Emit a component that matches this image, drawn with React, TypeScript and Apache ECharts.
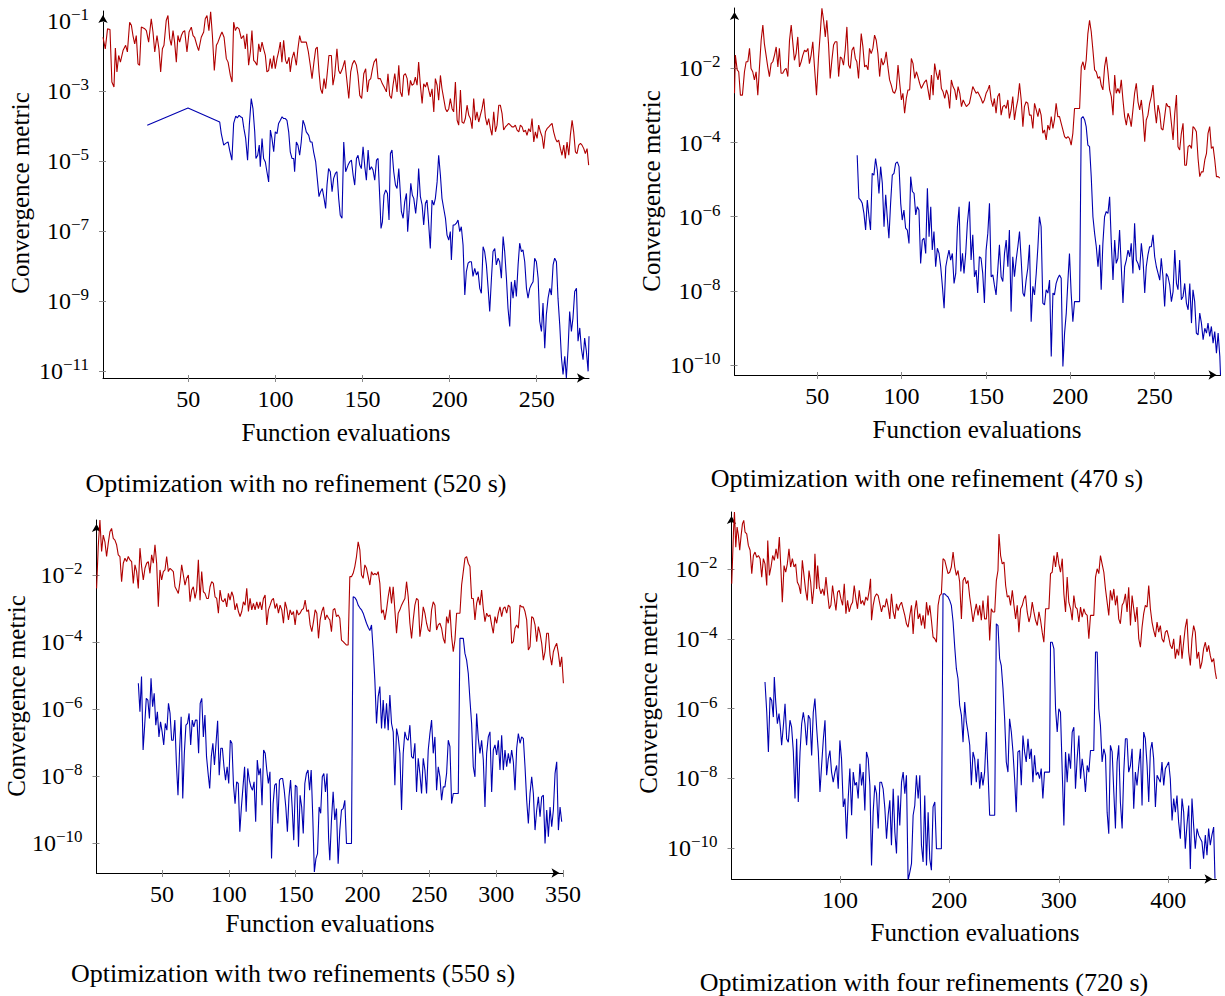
import React, { useEffect, useRef } from "react";
import * as echarts from "echarts";

const FONT = '"Liberation Serif", "Times New Roman", serif';
const RED = "#b00000";
const BLUE = "#0000b0";

// Values are log10 of the convergence metric, given as flat [x, log10(y)] lists.
const NOREF_RED = [
  1,-1.47, 2.3,-1.80, 3.6,-1.23, 5,-1.25, 6.1,-2.75, 7.3,-2.89, 8.1,-1.78, 9,-2.46, 10,-1.99, 11,-2.18, 12.5,-1.85, 14,-1.70, 15,-1.89, 16.3,-1.04, 17.3,-1.13, 18.2,-1.42, 19.2,-1.66, 20.1,-1.42, 21.1,-2.23, 22,-2.27, 23,-1.18, 25,-1.23, 25.9,-1.28, 27.2,-1.61, 28.7,-0.94, 29.7,-1.32, 30.7,-1.89, 32,-1.42, 33.1,-1.80, 34.1,-2.46, 35.1,-1.80, 36,-1.70, 37.3,-0.99, 38.3,-0.85, 39.3,-1.51, 40.2,-1.70, 41.2,-1.28, 42.1,-1.61, 43.1,-2.18, 44,-1.42, 45,-1.61, 46,-1.42, 46.9,-1.32, 47.9,-1.28, 49.2,-1.89, 50.4,-1.32, 51.7,-1.18, 52.7,-1.42, 53.6,-1.47, 54.9,-1.70, 55.9,-1.85, 57.4,-1.47, 58.8,-1.32, 59.7,-0.94, 60.7,-0.85, 61.8,-1.28, 62.8,-0.74, 63.8,-1.42, 64.9,-2.42, 66.1,-1.70, 67,-1.61, 68.4,-1.42, 69.3,-1.32, 70.5,-1.47, 71.8,-2.08, 72.8,-2.18, 74.1,-2.56, 75.1,-2.75, 76,-1.04, 77,-1.28, 77.9,-1.18, 79.1,-1.23, 80.4,-1.51, 81.7,-1.42, 82.7,-1.80, 83.6,-1.37, 84.6,-2.27, 85.6,-1.89, 86.5,-1.28, 87.5,-2.13, 88.4,-2.18, 89.4,-2.27, 90.4,-1.66, 91.3,-1.89, 92.3,-1.61, 93.2,-1.80, 94.2,-1.99, 95.1,-2.46, 96.1,-2.42, 97,-2.08, 98,-2.37, 99,-1.99, 99.9,-2.37, 100.9,-2.08, 101.8,-1.89, 102.8,-1.61, 103.7,-2.18, 104.7,-1.56, 105.8,-2.13, 106.6,-2.23, 107.8,-2.04, 108.5,-2.46, 109.5,-2.08, 110.6,-1.89, 112,-2.27, 112.9,-1.80, 113.9,-1.42, 114.8,-1.61, 116.2,-1.61, 117.7,-1.61, 118.9,-1.89, 120,-2.27, 121,-2.65, 122.1,-2.18, 123.1,-1.80, 124,-1.75, 125,-2.46, 125.9,-2.94, 126.9,-3.08, 127.9,-2.65, 128.8,-2.94, 129.6,-2.56, 130.7,-1.99, 132.1,-1.99, 133,-2.84, 134,-2.56, 135.3,-1.80, 136.3,-2.42, 137.2,-2.51, 138.4,-2.37, 139.8,-2.13, 140.7,-2.56, 142.1,-3.22, 143.2,-2.46,
  144.2,-2.23, 145.3,-2.13, 146.5,-2.27, 147.4,-2.56, 148.4,-3.13, 149.5,-3.22, 150.7,-2.51, 151.8,-2.37, 152.8,-3.03, 153.7,-2.70, 154.7,-2.65, 155.7,-2.37, 156.6,-2.18, 157.9,-2.08, 158.9,-2.65, 160.2,-2.65, 161.4,-2.80, 162.4,-2.89, 163.7,-3.03, 164.6,-2.51, 165.6,-3.13, 166.6,-3.22, 167.5,-2.84, 168.5,-2.51, 169.8,-3.03, 170.8,-2.27, 171.7,-3.03, 172.7,-3.17, 173.6,-2.56, 174.6,-2.51, 175.6,-2.65, 176.5,-3.13, 177.5,-2.70, 178.4,-2.84, 179.4,-2.80, 180.3,-2.61, 181.3,-2.84, 182.2,-2.18, 183.2,-2.84, 184.2,-3.36, 185.1,-2.80, 186.1,-2.89, 187,-2.75, 188,-2.98, 188.9,-3.17, 189.9,-2.94, 190.9,-3.60, 191.8,-2.65, 192.8,-2.84, 193.7,-3.27, 194.7,-2.56, 195.6,-2.94, 196.6,-3.22, 197.6,-3.51, 198.5,-3.60, 199.5,-3.51, 200.4,-3.22, 201.4,-3.51, 202.3,-3.60, 203.3,-2.75, 204.3,-3.84, 205.2,-3.98, 206.2,-2.98, 207.1,-3.89, 208.1,-3.93, 209,-3.79, 210,-3.41, 211,-3.70, 211.9,-3.79, 212.9,-4.08, 213.8,-3.22, 214.8,-3.84, 215.7,-3.60, 216.7,-3.89, 217.6,-3.70, 218.6,-3.51, 219.6,-3.22, 220.5,-3.75, 221.5,-3.98, 222.4,-3.79, 223.4,-4.08, 224.3,-4.27, 225.3,-3.60, 226.3,-4.17, 227.2,-3.98, 228.2,-3.41, 229.1,-3.41, 230.1,-3.65, 231,-4.12, 232,-4.03, 233,-3.98, 233.9,-3.93, 234.9,-3.98, 235.8,-4.03, 236.8,-4.03, 237.7,-3.98, 238.7,-4.12, 239.7,-4.17, 240.6,-3.98, 241.6,-4.03, 242.5,-4.17, 243.5,-4.12, 244.4,-4.27, 245.4,-4.08, 246.4,-4.17, 247.3,-3.79, 248.3,-4.46, 249.2,-4.17, 250.2,-4.36, 251.1,-3.98, 252.1,-4.17, 253.1,-4.31, 254,-4.65, 255,-4.17, 255.9,-4.08, 256.9,-4.03, 257.8,-3.98, 258.8,-3.93, 259.7,-4.17, 260.7,-4.36, 261.7,-4.46, 262.6,-4.41, 263.6,-4.65, 264.5,-4.84, 265.5,-4.55, 266.4,-4.93, 267.4,-4.46, 268.4,-4.84, 269.3,-4.27, 270.3,-3.84, 271.2,-4.17, 272.2,-4.74, 273.1,-4.79, 274.1,-4.55, 275.1,-4.50, 276,-4.55, 277,-4.65, 277.9,-4.79, 278.9,-4.65, 279.8,-5.12,
];

const NOREF_BLUE = [
  26.4,-3.98, 49.8,-3.49, 68,-3.89, 68.9,-4.22, 70.3,-4.55, 71.4,-4.50, 72.8,-4.46, 73.7,-4.69, 75,-4.98, 76,-3.93, 77.2,-3.72, 78.1,-3.77, 79.1,-3.70, 80,-3.74, 81,-3.77, 81.9,-4.08, 82.9,-4.36, 84,-4.98, 85,-3.98, 86.1,-3.22, 87.1,-3.51, 88.1,-4.17, 88.8,-4.93, 89.8,-4.84, 90.7,-4.55, 91.3,-5.17, 92.3,-4.36, 93.2,-4.93, 94.2,-5.03, 95.1,-5.31, 96.1,-5.60, 97.1,-4.12, 98,-4.36, 99,-4.74, 99.9,-4.17, 100.9,-4.22, 101.8,-3.93, 102.8,-3.84, 103.8,-3.74, 104.7,-3.79, 105.7,-3.79, 106.6,-3.84, 107.6,-4.17, 108.5,-4.74, 109.5,-4.93, 110.5,-4.93, 111,-5.31, 112,-4.46, 112.9,-4.55, 113.9,-4.84, 114.8,-4.46, 115.8,-3.84, 116.8,-3.98, 117.7,-4.17, 119.1,-4.27, 120,-4.46, 121,-4.46, 121.9,-4.74, 123.1,-5.03, 124,-5.50, 125,-6.02, 125.9,-5.88, 126.9,-5.79, 127.9,-6.07, 128.8,-6.36, 129.6,-5.69, 130.5,-5.22, 131.5,-5.31, 132.5,-5.88, 133.4,-5.50, 134.4,-5.36, 135.3,-5.31, 136.3,-6.07, 137.2,-6.55, 138.2,-6.64, 139.2,-4.46, 140.3,-5.31, 141.7,-5.12,
  142.6,-5.03, 143.6,-4.98, 144.6,-5.41, 145.5,-5.69, 146.5,-4.93, 147.4,-4.84, 148.4,-5.12, 149.3,-5.22, 150.3,-4.60, 151.3,-5.17, 152.2,-5.55, 153.2,-4.69, 154.1,-5.26, 155.1,-5.17, 156,-5.26, 157,-5.55, 158,-4.98, 158.9,-4.93, 159.9,-6.07, 160.6,-6.93, 161.4,-6.74, 162.3,-5.98, 163.3,-5.83, 164.3,-5.93, 165.2,-6.69, 166,-4.79, 166.9,-4.69, 167.9,-5.31, 168.9,-5.69, 169.8,-5.79, 170.8,-5.22, 171.3,-5.60, 172.3,-6.45, 173.3,-6.64, 174.2,-6.17, 175.2,-5.93, 175.9,-7.02, 176.7,-6.45, 177.7,-5.64, 178.6,-5.98, 179.4,-6.07, 180.5,-6.50, 181.5,-5.98, 182.2,-5.22, 183.2,-6.02, 184.2,-6.26, 185.1,-6.83, 186.1,-6.21, 187,-6.12, 188,-6.83, 188.9,-7.50, 189.9,-6.12, 190.9,-6.26, 191.8,-6.07, 192.8,-5.60, 193.7,-4.84, 194.7,-5.41, 195.6,-6.07, 196.6,-6.36, 197.6,-6.64, 198.5,-7.12, 199.5,-7.26, 200.4,-7.02, 201,-7.83, 202,-6.83, 202.9,-6.83, 203.9,-6.78, 204.8,-6.69, 205.8,-7.02, 206.7,-6.88, 207.7,-7.40, 208.7,-8.83, 209.6,-8.16, 210.6,-7.92, 211.5,-7.88, 212.5,-7.88, 213.4,-8.30, 214.4,-8.07, 215.4,-8.26, 216.3,-8.16, 217.3,-8.64, 218.2,-8.78, 219.2,-7.45, 220.1,-7.59, 221.1,-7.97, 222.1,-8.64, 223,-9.30, 224,-8.35, 224.9,-7.59, 225.9,-7.50, 226.8,-7.97, 227.8,-7.78, 228.7,-7.88, 229.7,-8.35, 230.7,-7.16, 231.6,-7.59, 232.6,-8.35, 233.5,-9.21, 234.5,-9.73, 235.4,-8.45, 236.4,-8.92, 237.4,-8.40, 238.3,-8.87, 239.3,-7.97, 240.2,-7.35, 241.2,-7.59, 242.1,-7.54, 243.1,-7.88, 244.1,-8.64, 245,-8.92, 246,-8.64, 246.9,-8.54, 247.9,-8.45, 248.8,-7.78, 249.8,-7.88, 250.8,-8.35, 251.7,-9.58, 252.7,-9.87, 253.6,-9.06, 254.6,-10.35, 255.5,-9.40, 256.5,-8.92, 257.5,-8.64, 258.4,-8.83, 259.4,-7.97, 260.3,-7.78, 261.3,-7.88, 262.2,-8.92, 263.2,-9.68, 264.2,-10.63, 265.1,-11.10, 266.1,-10.58, 267,-11.20, 268,-10.35, 268.9,-9.30, 269.9,-9.87, 270.8,-9.49, 271.8,-8.73, 272.8,-8.64, 273.7,-10.15, 274.7,-9.77, 275.6,-10.35, 276.6,-10.68, 277.5,-10.06, 278.5,-10.44, 279.5,-11.01, 280,-10.01,
];

const ONEREF_RED = [
  1,-2.67, 1.5,-1.64, 2.6,-2.04, 3.5,-2.09, 4.5,-2.72, 5.7,-2.72, 6.9,-2.09, 7.9,-1.82, 8.9,-1.82, 9.9,-1.46, 10.8,-2.00, 11.8,-2.09, 12.8,-2.31, 13.8,-2.09, 14.8,-2.72, 15.8,-1.96, 16.8,-1.24, 17.8,-0.83, 18.7,-1.33, 19.7,-1.64, 20.7,-1.96, 21.7,-2.22, 22.7,-1.87, 23.7,-1.82, 24.7,-1.64, 25.7,-1.42, 26.7,-1.96, 27.6,-1.46, 28.6,-2.13, 29.6,-2.13, 30.6,-2.04, 31.6,-2.00, 32.6,-2.22, 33.6,-1.24, 34.6,-0.83, 35.6,-1.33, 36.5,-1.78, 37.5,-1.60, 38.5,-1.15, 39.5,-1.96, 40.5,-1.82, 41.5,-1.64, 42.5,-1.51, 43.5,-1.55, 44.5,-1.46, 45.4,-1.87, 46.4,-1.64, 47.4,-1.28, 48.4,-1.96, 49.6,-2.72, 50.8,-1.69, 51.8,-1.06, 52.8,-0.38, 53.8,-0.70, 54.8,-1.15, 55.7,-0.70, 56.7,-1.33, 57.7,-2.27, 58.7,-1.78, 59.7,-1.37, 60.7,-1.28, 61.7,-1.28, 62.7,-2.22, 63.7,-1.69, 64.6,-1.73, 65.6,-1.91, 66.6,-1.51, 67.6,-0.88, 68.6,-1.91, 69.6,-2.00, 70.6,-1.51, 71.6,-1.42, 72.6,-1.73, 73.5,-1.82, 74.5,-2.27, 75.5,-1.51, 76.1,-1.06, 77.1,-1.42, 78.1,-1.96, 79.1,-1.91, 80.1,-2.04, 81,-1.46, 82,-1.60, 83,-1.46, 84,-1.10, 85,-1.24, 86,-1.60, 87,-2.22, 88,-1.73, 89,-1.91, 89.9,-1.82, 90.9,-1.55, 91.9,-1.96, 92.9,-2.31, 93.9,-2.45, 94.9,-2.63, 95.9,-2.67, 96.9,-2.54, 97.9,-1.91, 98.9,-2.40, 99.9,-2.85, 100.8,-2.67, 101.8,-3.21, 102.8,-2.81, 103.8,-2.58, 104.8,-2.58, 105.8,-1.73, 106.8,-1.87, 107.8,-2.27, 108.8,-2.09, 109.7,-2.22, 110.7,-2.40, 111.7,-2.54, 112.7,-2.45, 113.7,-2.36, 114.7,-2.31, 115.7,-2.58, 116.7,-2.85, 117.7,-2.18, 118.7,-2.72, 119.6,-1.87, 120.6,-2.13, 121.6,-2.31, 122.6,-2.04, 123.6,-2.54, 124.6,-2.63, 125.6,-2.81, 126.6,-2.58, 127.6,-2.72, 128.5,-3.08, 129.5,-2.31, 130.5,-2.49, 131.5,-2.58, 132.5,-2.85, 133.5,-2.49, 134.5,-2.67, 135.5,-3.03, 136.5,-2.85, 137.4,-2.94, 138.4,-3.03,
  140.2,-2.94, 141.2,-2.72, 142.2,-2.49, 143.2,-2.58, 144.2,-2.67, 145.1,-2.63, 146.1,-2.72, 147.1,-2.81, 148.1,-2.94, 149.1,-2.85, 150.1,-2.67, 151.1,-2.58, 152.1,-2.45, 153.1,-2.85, 154.1,-3.03, 155,-2.81, 156,-3.21, 157,-2.76, 158,-2.67, 159,-3.26, 160,-3.03, 161,-2.99, 162,-3.08, 163,-2.85, 163.9,-3.35, 164.9,-3.12, 165.9,-2.76, 166.9,-3.39, 167.9,-3.08, 168.9,-2.85, 169.9,-2.40, 170.9,-2.85, 171.9,-3.57, 172.8,-3.03, 173.8,-2.90, 174.8,-2.94, 175.8,-3.26, 176.8,-3.26, 177.8,-3.62, 178.8,-2.94, 179.8,-3.12, 180.8,-3.30, 181.7,-3.08, 182.7,-3.26, 183.7,-3.75, 184.7,-3.66, 185.7,-3.93, 186.7,-3.53, 187.7,-3.66, 188.7,-3.30, 189.7,-3.62, 190.6,-3.39, 191.6,-2.94, 192.6,-3.30, 193.6,-3.30, 194.6,-3.48, 195.6,-3.66, 196.6,-3.84, 197.6,-3.89, 198.6,-3.84, 199.5,-3.89, 200.5,-4.07, 201.5,-3.75, 202.5,-3.08, 203.5,-3.08, 204.5,-3.08, 205.5,-3.08, 206.5,-1.96, 207.5,-1.82, 208.5,-2.04, 209.4,-1.78, 210.4,-1.06, 211.4,-0.70, 212.4,-1.01, 213.4,-1.51, 214.4,-2.04, 215.4,-2.09, 216.4,-2.27, 217.4,-2.22, 218.3,-2.45, 219.3,-2.58, 220.3,-1.96, 221.3,-1.69, 222.3,-2.09, 223.3,-2.58, 224.3,-2.76, 225.3,-3.26, 226.3,-2.18, 227.2,-2.67, 228.2,-2.54, 229.2,-2.67, 230.2,-2.31, 231.2,-2.85, 232.2,-3.30, 233.2,-3.53, 234.2,-3.21, 235.2,-3.35, 236.1,-3.57, 237.1,-3.12, 238.1,-2.67, 239.1,-2.40, 240.1,-2.90, 241.1,-3.12, 242.1,-2.85, 243.1,-3.30, 244.1,-3.98, 245,-3.39, 246,-3.26, 247,-2.94, 248,-2.76, 249,-2.45, 250,-3.08, 251,-3.48, 252,-2.99, 253,-3.21, 253.9,-3.62, 254.9,-3.66, 255.9,-3.30, 256.9,-2.94, 257.9,-3.03, 258.9,-3.03, 259.9,-3.48, 260.9,-3.93, 261.9,-3.21, 262.9,-2.72, 263.8,-4.11, 264.8,-4.20, 265.8,-3.75, 266.8,-3.48, 267.8,-4.61, 268.8,-4.61, 269.8,-4.11, 270.8,-4.07, 271.8,-4.16, 272.7,-3.57, 273.7,-3.62, 274.7,-3.71, 275.7,-4.43, 276.7,-4.92, 277.7,-4.79, 278.7,-4.79, 279.7,-4.47, 280.7,-4.29, 281.6,-3.75, 282.6,-3.57, 283.6,-4.16, 284.6,-4.11, 285.6,-4.47, 286.6,-4.92, 287.6,-4.92, 288.6,-4.96,
];

const ONEREF_BLUE = [
  73.7,-4.34, 74.7,-5.50, 75.7,-5.55, 76.7,-5.64, 77.7,-5.91, 78.7,-6.36, 79.7,-5.55, 80.7,-6.00, 81.6,-6.36, 82.6,-4.83, 83.6,-4.88, 84.6,-4.43, 85.6,-4.74, 86.6,-5.37, 87.6,-4.65, 88.6,-5.10, 89.6,-6.27, 90.6,-5.41, 91.5,-6.00, 92.5,-6.58, 93.5,-5.64, 94.5,-4.88, 95.5,-4.83, 96.5,-4.56, 97.5,-4.52, 98.5,-4.65, 99.5,-5.64, 100.4,-6.09, 101.4,-5.82, 102.4,-6.31, 103.4,-6.36, 104.4,-6.72, 105.4,-4.92, 106.4,-5.32, 107.4,-5.37, 108.4,-5.95, 109.3,-5.73, 110.3,-5.82, 111.3,-7.26, 112.3,-6.63, 113.3,-6.58, 114.3,-6.99, 115.3,-5.23, 116.3,-6.54, 117.3,-5.73, 118.2,-6.90, 119.2,-6.40, 120.2,-7.35, 121.2,-6.85, 122.2,-6.99, 123.2,-7.35, 124.2,-7.88, 125.2,-8.47, 126.2,-7.35, 127.1,-7.12, 128.1,-6.90, 129.1,-7.17, 130.1,-6.99, 131.1,-7.80, 132.1,-7.53, 133.1,-6.27, 134.1,-5.73, 135.1,-7.48, 136.1,-6.99, 137,-7.53, 138,-6.99, 139,-6.18,
  140.2,-5.59, 141.2,-7.17, 142.2,-6.49, 143.2,-7.62, 144.2,-7.44, 145.1,-8.06, 146.1,-7.08, 147.1,-7.12, 148.1,-7.53, 149.1,-8.33, 150.1,-6.90, 151.1,-6.45, 152.1,-5.64, 153.1,-7.62, 154.1,-7.57, 155,-7.84, 156,-8.11, 157,-7.44, 158,-6.76, 159,-7.62, 160,-7.75, 161,-6.99, 162,-6.63, 163,-7.35, 163.9,-6.36, 164.9,-8.56, 165.9,-7.08, 166.9,-7.62, 167.9,-7.17, 168.9,-6.81, 169.9,-6.40, 170.9,-7.17, 171.9,-8.06, 172.8,-8.15, 173.8,-7.71, 174.8,-7.39, 175.8,-6.76, 176.8,-8.83, 177.8,-7.88, 178.8,-8.11, 179.8,-7.53, 180.8,-6.81, 181.7,-6.00, 182.7,-6.27, 183.7,-8.33, 184.7,-8.38, 185.7,-7.97, 186.7,-8.06, 187.7,-7.71, 188.7,-9.77, 189.7,-8.06, 190.6,-8.11, 191.6,-7.80, 192.6,-7.66, 193.6,-7.57, 194.6,-7.66, 195.6,-10.04, 196.6,-9.14, 197.6,-8.60, 198.6,-7.71, 199.5,-6.99, 200.5,-8.06, 201.5,-8.83, 202.5,-8.29, 203.5,-8.29, 204.5,-8.29, 205.5,-8.29, 206.5,-3.35, 207.5,-3.30, 208.5,-3.39, 209.4,-3.57, 210.4,-4.07, 211.4,-4.11, 212.4,-4.92, 213.4,-6.00, 214.4,-6.45, 215.4,-6.81, 216.4,-7.35, 217.4,-6.76, 218.3,-7.97, 219.3,-6.72, 220.3,-6.00, 221.3,-5.86, 222.3,-5.91, 223.3,-5.46, 224.3,-6.72, 225.3,-7.71, 226.3,-6.63, 227.2,-7.26, 228.2,-7.12, 229.2,-6.36, 230.2,-7.35, 231.2,-8.33, 232.2,-7.35, 233.2,-7.17, 234.2,-6.90, 235.2,-7.08, 236.1,-6.72, 237.1,-7.53, 238.1,-6.18, 239.1,-7.17, 240.1,-7.26, 241.1,-7.44, 242.1,-6.72, 243.1,-7.17, 244.1,-8.06, 245,-7.35, 246,-7.03, 247,-6.81, 248,-6.81, 249,-6.49, 250,-7.08, 251,-7.35, 252,-7.53, 253,-7.71, 253.9,-7.12, 254.9,-7.62, 255.9,-8.42, 256.9,-7.53, 257.9,-7.62, 258.9,-7.84, 259.9,-8.29, 260.9,-8.02, 261.9,-6.90, 262.9,-7.80, 263.8,-7.97, 264.8,-7.17, 265.8,-8.24, 266.8,-8.15, 267.8,-7.80, 268.8,-8.33, 269.8,-8.51, 270.8,-7.80, 271.8,-8.87, 272.7,-7.97, 273.7,-8.29, 274.7,-9.14, 275.7,-9.19, 276.7,-8.60, 277.7,-8.87, 278.7,-9.32, 279.7,-9.01, 280.7,-9.14, 281.6,-8.87, 282.6,-9.23, 283.6,-8.96, 284.6,-9.41, 285.6,-9.10, 286.6,-9.68, 287.6,-9.14, 288.6,-9.77, 289,-10.27,
];

// Two-refinement run: evenly sampled stretches (first x, spacing, log10 values)
const TWOREF_RED_A = { x0: 1.06, dx: 1.248, v: [
  -2.39,-1.14,-0.35,-1.29,-0.80,-1.00,-1.44,-1.04,-0.70,-0.60,
  -0.90,-0.95,-1.09,-1.39,-1.44,-2.19,-1.64,-1.49,-1.59,-1.44,
  -1.54,-1.59,-2.24,-1.69,-1.89,-2.39,-1.19,-1.74,-2.14,-1.79,
  -1.64,-1.59,-1.94,-1.39,-1.64,-1.09,-1.64,-2.94,-1.84,-2.14,
  -1.89,-1.84,-1.44,-1.89,-1.79,-1.84,-1.89,-2.34,-2.44,-2.54,
  -2.19,-1.69,-1.99,-2.29,-2.09,-1.99,-2.79,-2.44,-2.34,-2.69,
  -2.44,-1.54,-2.74,-1.89,-2.49,-2.54,-2.69,-2.69,-2.34,-2.19,
  -2.24,-2.64,-2.69,-3.13,-2.44,-2.74,-2.79,-2.69,-2.94,-2.54,
  -2.74,-2.49,-2.64,-3.03,-2.84,-3.08,-3.23,-3.08,-2.79,-2.89,
  -2.39,-3.08,-2.69,-3.03,-2.84,-3.03,-2.79,-2.99,-2.79,-3.03,
  -2.69,-2.59,-3.48,-3.03,-2.89,-2.74,-2.69,-2.99,-2.84,-3.13,
  -2.89,-3.03,-3.43,-2.79,-2.99,-3.33,-3.03,-3.18,-3.08,-3.48,
  -3.03,-3.18,-3.13,-3.03,-2.99,-2.74,-3.08,-3.03,-3.48,-3.68,
  -3.38,-3.03,-3.13,-3.88,-3.33,-3.08,-2.94,-3.33,-3.18,-3.28,
] };
const TWOREF_RED_B = { x0: 175.5, dx: 1.248, v: [
  -3.33,-3.68,-3.03,-2.99,-3.23,-3.18,-3.28,-3.93,-3.98,-4.03,
  -4.08,-4.08,-2.04,-2.04,-1.94,-1.74,-1.44,-1.00,-1.24,-1.99,
  -2.09,-1.69,-1.79,-2.04,-2.29,-1.89,-1.99,-1.94,-1.99,-1.89,
  -2.24,-3.13,-3.03,-3.33,-3.03,-2.64,-2.34,-2.84,-2.34,-3.03,
  -3.73,-3.13,-3.03,-2.89,-2.79,-2.69,-2.19,-2.64,-3.43,-3.88,
  -3.33,-2.89,-2.69,-2.74,-3.83,-3.48,-2.94,-3.13,-3.43,-3.63,
  -3.68,-3.03,-2.79,-2.89,-3.63,-3.48,-3.43,-3.58,-3.88,-4.03,
  -3.23,-3.43,-3.03,-3.83,-4.28,-3.93,-3.13,-3.13,-3.13,-2.29,
  -1.89,-1.49,-1.44,-1.64,-1.74,-2.69,-2.69,-3.33,-2.84,-2.64,
  -2.89,-2.44,-2.99,-3.38,-3.13,-3.23,-3.18,-3.48,-3.73,-3.23,
  -3.43,-3.13,-2.94,-3.23,-2.99,-2.94,-3.13,-2.89,-2.94,-4.03,
  -3.98,-3.58,-3.48,-3.58,-2.89,-2.94,-2.94,-3.08,-3.33,-4.23,
  -4.13,-3.23,-3.28,-3.48,-3.98,-3.53,-3.73,-4.03,-4.53,-4.28,
  -3.73,-3.73,-4.38,-4.68,-4.28,-4.13,-4.03,-4.33,-4.73,-4.43,
  -5.22,
] };
const TWOREF_BLUE_A = { x0: 32.3, dx: 1.186, v: [
  -5.22,-6.07,-5.02,-7.21,-6.47,-5.67,-5.72,-6.27,-5.07,-5.92,
  -5.52,-6.47,-6.07,-6.82,-6.37,-6.67,-7.06,-6.42,-6.62,-5.82,
  -6.12,-6.92,-6.92,-6.32,-7.61,-8.56,-7.21,-6.22,-8.66,-7.31,
  -6.47,-6.42,-6.12,-7.06,-6.32,-6.52,-6.32,-6.32,-7.31,-5.82,
  -5.67,-6.82,-6.17,-7.41,-7.91,-8.36,-7.41,-7.01,-7.66,-7.01,
  -6.34,-7.96,-7.16,-7.16,-7.71,-8.11,-7.71,-8.21,-6.92,-7.01,
  -8.26,-8.81,-8.16,-8.21,-9.65,-8.91,-8.31,-7.71,-9.05,-7.76,
  -8.11,-8.31,-8.41,-8.16,-9.35,-7.51,-7.96,-7.76,-8.86,-7.21,
  -7.31,-7.81,-8.21,-7.86,-10.45,-8.81,-8.26,-8.21,-9.40,-8.11,
  -8.06,-8.06,-8.41,-8.91,-9.65,-8.61,-8.11,-8.91,-9.90,-8.26,
  -8.31,-10.10,-8.56,-8.91,-9.70,-8.21,-7.91,-7.81,-8.41,-7.81,
  -9.20,-10.85,-10.45,-10.30,-8.91,-9.10,-8.01,-7.91,-8.46,-7.91,
  -9.85,
] };
const TWOREF_BLUE_B = { x0: 175.5, dx: 1.248, v: [
  -10.50,-9.30,-8.46,-9.30,-8.96,-10.60,-9.60,-9.00,-8.96,-8.71,
  -10.00,-10.00,-10.00,-10.00,-2.64,-2.66,-2.74,-2.89,-2.97,-3.03,
  -3.13,-3.28,-3.43,-3.55,-3.65,-3.48,-4.23,-5.12,-6.42,-5.62,
  -5.32,-6.57,-5.72,-6.57,-5.82,-6.62,-5.57,-6.42,-6.67,-8.26,
  -6.57,-6.82,-7.31,-9.00,-7.31,-6.67,-6.87,-6.92,-6.47,-7.41,
  -7.46,-7.01,-8.46,-7.46,-7.91,-8.51,-7.46,-7.81,-8.51,-7.21,
  -6.72,-6.32,-7.31,-6.82,-8.41,-7.71,-8.01,-8.71,-8.31,-8.31,
  -7.91,-6.92,-7.11,-8.81,-8.51,-8.51,-8.51,-8.51,-3.88,-3.88,
  -3.88,-4.33,-4.53,-4.93,-5.72,-6.42,-7.71,-8.01,-6.12,-6.87,
  -7.31,-6.92,-7.51,-8.91,-7.31,-6.82,-6.67,-8.46,-7.21,-7.06,
  -7.36,-6.92,-7.81,-6.77,-7.81,-7.21,-7.71,-7.31,-7.61,-7.21,
  -7.56,-8.41,-7.16,-6.72,-7.01,-6.82,-6.87,-7.71,-8.71,-9.40,
  -8.51,-8.01,-8.51,-9.60,-9.00,-8.61,-9.20,-8.61,-8.56,-10.00,
  -9.00,-9.80,-8.91,-9.50,-9.00,-7.91,-7.56,-9.60,-8.91,-9.35,
] };

const FOURREF_RED = [
  1.2,-2.41, 2.8,-0.93, 3.7,-0.35, 4.9,-1.36, 6.1,-0.78, 7.3,-1.02, 8.5,-1.45, 9.8,-1.02, 11,-0.69, 12.2,-0.59, 13.4,-0.93, 14.9,-0.98, 16.4,-1.31, 18,-1.45, 19.5,-2.12, 21,-1.60, 22.5,-1.50, 24,-1.65, 25.6,-1.60, 27.1,-1.69, 28.6,-2.22, 30.1,-1.69, 31.6,-1.84, 33.2,-2.46, 34.1,-1.17, 35.6,-2.17, 37.1,-1.93, 38.6,-1.60, 40.1,-1.74, 41.7,-1.41, 43.2,-1.69, 44.7,-1.07, 46.2,-2.03, 47.4,-2.94, 49,-1.89, 50.5,-2.08, 52,-1.84, 53.5,-1.41, 55,-1.93, 56.6,-1.69, 58.1,-1.93, 59.6,-1.84, 61.1,-2.36, 62.6,-2.46, 64.2,-2.70, 65.7,-1.74, 67.2,-2.17, 68.7,-2.60, 70.2,-2.89, 71.8,-2.03, 73.3,-2.36, 74.8,-2.99, 76.3,-2.51, 77.2,-1.55, 78.8,-2.56, 79.7,-1.89, 81.2,-2.51, 82.7,-2.70, 84.2,-2.56, 85.7,-2.75, 87.3,-2.22, 88.8,-2.70, 90.3,-3.13, 91.8,-3.03, 93.3,-2.46, 94.9,-2.84, 96.4,-3.18, 97.9,-2.65, 99.4,-2.60, 100.9,-2.84, 102.5,-3.03, 104,-2.41, 105.5,-3.27, 107,-2.89, 108.5,-3.22, 110.1,-3.03, 111.6,-2.94, 113.1,-2.46, 114.6,-2.84, 116.1,-3.13, 117.7,-2.60, 119.2,-2.99, 120.7,-2.89, 122.2,-3.03, 123.7,-2.79, 125.3,-2.89, 126.8,-2.60, 128,-2.27, 128.9,-3.46, 130.4,-3.03, 131.9,-2.79, 133.5,-2.70, 135,-2.75, 136.5,-2.99, 138,-3.22, 139.5,-3.03, 141.1,-3.08, 142.6,-2.84, 144.1,-3.08, 145.6,-3.42, 147.1,-2.70, 148.7,-3.22, 150.2,-3.42, 151.7,-2.99, 153.2,-3.18, 154.7,-3.03, 156.3,-2.94, 157.8,-3.13, 159.3,-3.32, 160.8,-3.56, 162.3,-3.66, 163.9,-3.32, 165.4,-3.03, 166.9,-3.85, 168.4,-3.18, 169.9,-2.89, 171.5,-3.42, 173,-3.27, 174.5,-3.61, 176,-3.32, 177.5,-3.70, 179.1,-2.94, 180.6,-3.32, 182.1,-3.03, 183.6,-3.46, 185.1,-3.94, 186.7,-3.99, 188.2,-4.09, 189.7,-3.03, 191.2,-2.75, 192.7,-2.70, 194.2,-1.69, 195.8,-1.74, 197.3,-1.93, 198.8,-2.12, 200.3,-2.08, 201.8,-1.93, 203.4,-1.50, 204.9,-1.93, 206.4,-2.17, 207.9,-2.03, 209.4,-2.36, 211,-3.42, 212.5,-2.32,
  214,-2.22, 215.5,-2.41, 217,-2.32, 218.6,-2.79, 220.1,-3.13, 221.6,-3.51, 223.1,-3.22, 224.6,-2.99, 226.2,-3.32, 227.7,-3.03, 229.2,-3.46, 230.7,-2.89, 232.2,-3.42, 233.8,-3.42, 235.3,-2.75, 236.8,-4.04, 238.3,-3.13, 239.8,-3.22, 241.4,-3.22, 242.9,-2.32, 244.4,-2.03, 245.3,-0.98, 246.8,-1.60, 248.3,-1.84, 249.9,-1.79, 251.4,-2.46, 252.9,-2.79, 254.4,-2.75, 255.9,-3.03, 257.5,-2.60, 259,-3.03, 260.5,-3.42, 262,-3.03, 263.5,-3.80, 265.1,-3.13, 266.6,-3.03, 268.1,-2.84, 269.6,-2.75, 271.1,-3.22, 272.7,-3.51, 274.2,-3.32, 275.7,-2.94, 277.2,-3.22, 278.7,-3.46, 280.3,-3.61, 281.8,-3.22, 283.3,-3.46, 284.8,-3.80, 286.3,-4.09, 287.9,-3.13, 289.4,-3.13, 290.9,-3.13, 292.4,-2.12, 293.9,-2.08, 295.5,-1.60, 297,-1.93, 298.5,-1.50, 300,-1.84, 301.5,-2.08, 303.1,-1.69, 304.6,-2.70, 306.1,-3.22, 307.6,-2.22, 309.1,-2.94, 310.7,-3.13, 312.2,-3.46, 313.7,-2.75, 315.2,-3.08, 316.7,-3.13, 318.3,-3.51, 319.8,-3.08, 321.3,-3.37, 322.8,-3.13, 324.3,-3.27, 325.9,-3.32, 327.4,-3.99, 328.9,-3.32, 330.4,-3.32, 331.9,-3.32, 333.5,-2.22, 335,-1.98, 336.5,-2.12, 338,-1.60, 339.5,-1.84, 341.1,-2.08, 342.6,-2.56, 344.1,-2.94, 345.6,-3.32, 347.1,-2.60, 348.7,-2.89, 350.2,-2.56, 351.7,-3.03, 353.2,-2.75, 354.7,-3.42, 356.2,-3.56, 357.8,-3.03, 359.3,-2.94, 360.8,-2.70, 362.3,-3.22, 363.8,-2.51, 365.4,-3.61, 366.9,-2.75, 368.4,-3.13, 369.9,-3.51, 371.4,-3.08, 373,-3.99, 374.5,-4.23, 376,-3.66, 377.5,-3.27, 379,-3.03, 380.6,-3.08, 382.1,-2.46, 383.6,-3.13, 385.1,-3.51, 386.6,-3.75, 388.2,-3.94, 389.7,-3.51, 391.2,-3.80, 392.7,-3.61, 394.2,-3.99, 395.8,-4.09, 397.3,-3.80, 398.8,-3.75, 400.3,-3.94, 401.8,-4.18, 403.4,-4.28, 404.9,-3.99, 406.4,-4.56, 407.9,-4.28, 409.4,-4.47, 411,-3.89, 412.5,-4.56, 414,-4.09, 415.5,-3.66, 417,-3.42, 418.6,-4.37, 420.1,-4.76, 421.6,-3.99, 423.1,-3.61, 424.6,-3.80, 426.2,-4.56, 427.7,-4.37, 429.2,-4.85, 430.7,-4.66, 432.2,-4.28, 433.8,-4.09, 435.3,-4.37, 436.8,-4.18, 438.3,-4.47, 439.8,-4.66, 441.4,-4.56, 442.9,-4.95, 444,-5.14,
];

const FOURREF_BLUE = [
  31.6,-5.23, 33.2,-6.10, 34.7,-7.24, 36.2,-5.67, 37.7,-5.76, 39.2,-6.24, 40.1,-5.09, 41.4,-5.81, 42.9,-6.43, 44.4,-6.14, 45.6,-6.53, 46.8,-7.05, 48.4,-6.48, 49.9,-5.86, 51.4,-6.86, 52.9,-6.96, 54.4,-6.33, 55.9,-6.53, 57.5,-7.24, 59,-8.58, 60.5,-6.86, 62,-8.68, 63.6,-7.24, 65.1,-6.43, 66.6,-6.10, 68.1,-6.43, 69.6,-7.05, 71.2,-6.19, 72.7,-6.29, 74.2,-7.34, 75.7,-6.10, 77.2,-5.71, 78.8,-6.57, 80.3,-7.24, 81.8,-8.39, 83.3,-7.63, 84.8,-6.91, 86.4,-6.33, 87.9,-7.91, 89.4,-7.44, 90.9,-7.20, 92.4,-7.82, 93.9,-8.11, 95.5,-7.82, 97,-7.63, 98.5,-8.30, 100,-6.91, 101.5,-7.44, 103.1,-8.82, 104.6,-8.58, 106.1,-9.73, 107.6,-8.58, 109.1,-7.72, 110.7,-9.06, 112.2,-7.82, 113.7,-8.20, 115.2,-8.11, 116.7,-8.58, 118.3,-7.58, 119.8,-8.20, 121.3,-7.82, 122.8,-8.92, 124.3,-7.24, 125.9,-7.44, 127.4,-8.20, 128.9,-10.50, 130.4,-8.97, 131.9,-8.20, 133.5,-8.44, 135,-9.44, 136.5,-8.11, 138,-8.11, 139.5,-8.30, 141.1,-8.87, 142.6,-9.73, 144.1,-9.06, 145.6,-8.63, 147.1,-9.92, 148.7,-8.30, 150.2,-9.54, 151.7,-10.16, 153.2,-8.49, 154.7,-9.35, 156.3,-8.11, 157.8,-7.82, 159.3,-8.44, 160.8,-7.91, 162.3,-10.93, 163.9,-10.69, 165.4,-10.45, 166.9,-9.06, 168.4,-8.78, 169.9,-7.91, 171.5,-8.58, 173,-7.91, 174.5,-9.92, 176,-10.40, 177.5,-8.49, 179.1,-10.50, 180.6,-8.97, 182.1,-10.31, 183.6,-10.64, 185.1,-8.82, 186.7,-8.68, 188.2,-10.02, 189.7,-10.02, 191.2,-10.02, 192.7,-10.02, 194.2,-2.70, 195.8,-2.70, 197.3,-2.75, 198.8,-2.79, 200.3,-2.89, 201.8,-3.03, 203.4,-3.51, 204.9,-4.23, 206.4,-4.85, 207.9,-5.14, 209.4,-5.90, 211,-6.19, 212.5,-6.96,
  214,-5.81, 215.5,-6.38, 217,-6.67, 218.6,-7.05, 220.1,-8.20, 221.6,-7.24, 223.1,-7.44, 224.6,-8.11, 226.2,-7.44, 227.7,-8.30, 229.2,-7.82, 230.7,-8.20, 232.2,-7.82, 233.8,-6.67, 235.3,-7.82, 236.8,-9.06, 238.3,-9.06, 239.8,-9.06, 241.4,-9.06, 242.9,-3.56, 244.4,-3.61, 245.9,-4.56, 247.4,-4.76, 249,-5.43, 250.5,-6.29, 252,-7.53, 253.5,-7.82, 255,-6.29, 256.6,-6.67, 258.1,-7.24, 259.6,-8.01, 261.1,-8.97, 262.6,-7.24, 264.2,-7.20, 265.7,-8.20, 267.2,-6.77, 268.7,-7.24, 270.2,-7.53, 271.8,-6.86, 273.3,-7.44, 274.8,-7.15, 276.3,-8.11, 277.8,-7.34, 279.3,-7.91, 280.9,-7.82, 282.4,-8.01, 283.9,-7.72, 285.4,-8.58, 286.9,-7.82, 288.5,-7.82, 290,-7.82, 291.5,-7.82, 292.4,-4.09, 293.9,-4.09, 295.5,-4.28, 297,-6.00, 298.5,-6.67, 300,-6.00, 301.5,-6.10, 303.1,-7.82, 304.6,-9.35, 306.1,-7.24, 307.6,-8.11, 309.1,-7.29, 310.7,-7.72, 312.2,-6.67, 313.7,-6.53, 315.2,-8.30, 316.7,-7.44, 318.3,-6.77, 319.8,-8.01, 321.3,-7.44, 322.8,-7.82, 324.3,-8.39, 325.9,-7.63, 327.4,-7.82, 328.9,-7.20, 330.4,-7.20, 331.9,-7.20, 333.5,-4.37, 335,-4.37, 336.5,-6.00, 338,-6.48, 339.5,-7.53, 341.1,-7.15, 342.6,-7.34, 344.1,-8.97, 345.6,-9.59, 347.1,-7.05, 348.7,-7.24, 350.2,-8.39, 351.7,-9.44, 353.2,-7.53, 354.7,-7.05, 356.2,-8.68, 357.8,-9.44, 359.3,-7.82, 360.8,-6.86, 362.3,-6.86, 363.8,-7.82, 365.4,-7.63, 366.9,-7.15, 368.4,-8.87, 369.9,-7.82, 371.4,-8.20, 373,-7.63, 374.5,-7.15, 376,-8.78, 377.5,-6.67, 379,-6.86, 380.6,-7.63, 382.1,-8.68, 383.6,-7.20, 385.1,-6.96, 386.6,-7.44, 388.2,-8.82, 389.7,-7.91, 391.2,-8.01, 392.7,-8.11, 394.2,-7.53, 395.8,-8.20, 397.3,-7.72, 398.8,-7.63, 400.3,-7.53, 401.8,-8.01, 403.4,-9.21, 404.9,-8.58, 406.4,-8.97, 407.9,-8.49, 409.4,-9.25, 411,-9.73, 412.5,-8.58, 414,-8.97, 415.5,-10.02, 417,-9.35, 418.6,-8.78, 420.1,-10.60, 421.6,-8.58, 423.1,-9.35, 424.6,-10.02, 426.2,-9.44, 427.7,-9.63, 429.2,-9.73, 430.7,-9.82, 432.2,-10.31, 433.8,-9.63, 435.3,-10.21, 436.8,-9.44, 438.3,-9.92, 439.8,-9.63, 441.4,-9.40, 442.6,-10.88,
];

const TITLES = [
  "Optimization with no refinement (520 s)",
  "Optimization with one refinement (470 s)",
  "Optimization with two refinements (550 s)",
  "Optimization with four refinements (720 s)",
];
const X_NAME = "Function evaluations";
const Y_NAME = "Convergence metric";
const X_TICKS = [
  [50, 100, 150, 200, 250],
  [50, 100, 150, 200, 250],
  [50, 100, 150, 200, 250, 300, 350],
  [100, 200, 300, 400],
];
const Y_TICKS = [
  [-11, -9, -7, -5, -3, -1],
  [-10, -8, -6, -4, -2],
  [-10, -8, -6, -4, -2],
  [-10, -8, -6, -4, -2],
];
const X_RANGE = [[1, 280], [1, 289], [1, 350.3], [1, 444]];
const Y_RANGE = [[-11.2, -0.72], [-10.27, -0.37], [-10.88, -0.35], [-10.89, -0.35]];

// layout (pixels)
const GRIDS = [
  { left: 103, top: 11, width: 486, height: 367 },
  { left: 734.5, top: 8, width: 486, height: 367 },
  { left: 96.5, top: 520, width: 467, height: 353 },
  { left: 731.5, top: 512, width: 485, height: 367 },
];
const TITLE_POS = [[296, 483], [927, 478], [293, 973], [924, 982]];
const XNAME_POS = [[346, 432], [977, 429], [330, 923], [975, 932]];
const YNAME_POS = [[20, 193], [651, 191], [16, 696], [648, 693]];

function pairs(flat: number[]): number[][] {
  const out: number[][] = [];
  for (let i = 0; i + 1 < flat.length; i += 2) out.push([flat[i], flat[i + 1]]);
  return out;
}
function sampled(s: { x0: number; dx: number; v: number[] }): number[][] {
  return s.v.map((y, i) => [s.x0 + i * s.dx, y]);
}

const SERIES_DATA = [
  [pairs(NOREF_RED), pairs(NOREF_BLUE)],
  [pairs(ONEREF_RED), pairs(ONEREF_BLUE)],
  [sampled(TWOREF_RED_A).concat(sampled(TWOREF_RED_B)), sampled(TWOREF_BLUE_A).concat(sampled(TWOREF_BLUE_B))],
  [pairs(FOURREF_RED), pairs(FOURREF_BLUE)],
];

export default function App() {
  const ref = useRef<HTMLDivElement>(null);

  useEffect(() => {
    document.body.style.margin = "0";
    if (!ref.current) return;
    const chart = echarts.init(ref.current, undefined, { renderer: "svg" });

    const tickStyle = { color: "#8a8a8a", width: 1 };
    const xAxis: any[] = [];
    const yAxis: any[] = [];
    const series: any[] = [];
    const graphic: any[] = [];

    GRIDS.forEach((g, i) => {
      const [xmin, xmax] = X_RANGE[i];
      const [ymin, ymax] = Y_RANGE[i];
      xAxis.push({
        type: "value", gridIndex: i, min: xmin, max: xmax, position: "bottom",
        axisLine: { show: true, onZero: false, symbol: ["none", "arrow"], symbolSize: [7, 8], symbolOffset: [0, -4], lineStyle: { color: "#000", width: 1 } },
        axisTick: { show: true, inside: false, length: 4, lineStyle: tickStyle, customValues: X_TICKS[i] },
        axisLabel: { show: true, customValues: X_TICKS[i], margin: 9, color: "#000", fontFamily: FONT, fontSize: 24, formatter: (v: number) => String(Math.round(v)) },
        splitLine: { show: false },
      });
      xAxis.push({
        type: "value", gridIndex: i, min: xmin, max: xmax, position: "bottom",
        axisLine: { show: false, onZero: false },
        axisTick: { show: true, inside: true, length: 3, lineStyle: tickStyle, customValues: X_TICKS[i] },
        axisLabel: { show: false },
        splitLine: { show: false },
      });
      yAxis.push({
        type: "value", gridIndex: i, min: ymin, max: ymax, position: "left",
        axisLine: { show: true, onZero: false, symbol: ["none", "arrow"], symbolSize: [7, 8], symbolOffset: [0, -4], lineStyle: { color: "#000", width: 1 } },
        axisTick: { show: true, inside: false, length: 4, lineStyle: tickStyle, customValues: Y_TICKS[i] },
        axisLabel: {
          show: true, customValues: Y_TICKS[i], margin: 14,
          formatter: (v: number) => `{a|10}{b|\u2212${Math.round(-v)}}`,
          rich: {
            a: { fontFamily: FONT, fontSize: 24, color: "#000", lineHeight: 30 },
            b: { fontFamily: FONT, fontSize: 17, color: "#000", lineHeight: 19, verticalAlign: "top" },
          },
        },
        splitLine: { show: false },
      });
      yAxis.push({
        type: "value", gridIndex: i, min: ymin, max: ymax, position: "left",
        axisLine: { show: false, onZero: false },
        axisTick: { show: true, inside: true, length: 3, lineStyle: tickStyle, customValues: Y_TICKS[i] },
        axisLabel: { show: false },
        splitLine: { show: false },
      });

      const [red, blue] = SERIES_DATA[i];
      series.push({
        type: "line", xAxisIndex: 2 * i, yAxisIndex: 2 * i, data: red,
        showSymbol: false, symbol: "none", silent: true,
        lineStyle: { color: RED, width: 1.1 }, itemStyle: { color: RED },
      });
      series.push({
        type: "line", xAxisIndex: 2 * i, yAxisIndex: 2 * i, data: blue,
        showSymbol: false, symbol: "none", silent: true,
        lineStyle: { color: BLUE, width: 1.1 }, itemStyle: { color: BLUE },
      });

      graphic.push({
        type: "text", x: TITLE_POS[i][0], y: TITLE_POS[i][1],
        style: { text: TITLES[i], fill: "#000", fontFamily: FONT, fontSize: 26, textAlign: "center", textVerticalAlign: "middle", align: "center", verticalAlign: "middle" },
      });
      graphic.push({
        type: "text", x: XNAME_POS[i][0], y: XNAME_POS[i][1],
        style: { text: X_NAME, fill: "#000", fontFamily: FONT, fontSize: 25, textAlign: "center", textVerticalAlign: "middle", align: "center", verticalAlign: "middle" },
      });
      graphic.push({
        type: "text", x: YNAME_POS[i][0], y: YNAME_POS[i][1], rotation: Math.PI / 2,
        style: { text: Y_NAME, fill: "#000", fontFamily: FONT, fontSize: 25, textAlign: "center", textVerticalAlign: "middle", align: "center", verticalAlign: "middle" },
      });
    });

    chart.setOption({
      animation: false,
      backgroundColor: "#ffffff",
      textStyle: { fontFamily: FONT },
      grid: GRIDS.map((g) => ({ ...g, containLabel: false, outerBoundsMode: "none" })),
      xAxis,
      yAxis,
      series,
      graphic,
    });

    return () => chart.dispose();
  }, []);

  return <div ref={ref} style={{ position: "absolute", left: 0, top: 0, width: 1225, height: 996 }} />;
}
